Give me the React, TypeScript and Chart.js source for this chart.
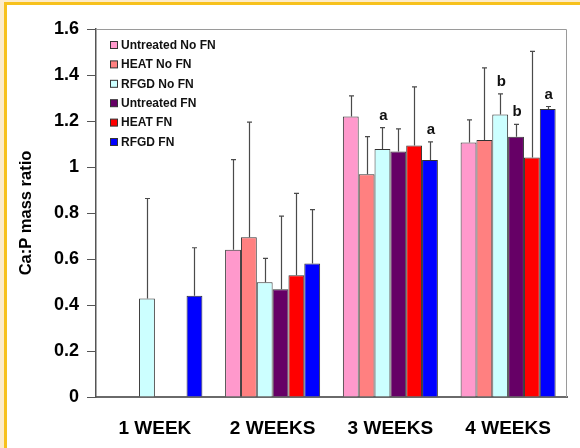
import React, { useEffect, useRef } from "react";
import { Chart, registerables } from "chart.js";

Chart.register(...registerables);

const categories = ["1 WEEK", "2 WEEKS", "3 WEEKS", "4 WEEKS"];
const seriesNames = ["Untreated No FN", "HEAT No FN", "RFGD No FN", "Untreated FN", "HEAT FN", "RFGD FN"];
const seriesColors = ["#FF99CC", "#FF8080", "#CCFFFF", "#660066", "#FF0000", "#0000FF"];

const untreatedNoFN = [null, 0.64, 1.22, 1.106];
const heatNoFN = [null, 0.695, 0.968, 1.117];
const rfgdNoFN = [0.428, 0.499, 1.078, 1.228];
const untreatedFN = [null, 0.468, 1.067, 1.132];
const heatFN = [null, 0.529, 1.093, 1.041];
const rfgdFN = [0.44, 0.58, 1.03, 1.252];

// upper end of the error bars
const untreatedNoFNErr = [null, 1.032, 1.309, 1.205];
const heatNoFNErr = [null, 1.195, 1.132, 1.431];
const rfgdNoFNErr = [0.863, 0.603, 1.171, 1.318];
const untreatedFNErr = [null, 0.786, 1.166, 1.185];
const heatFNErr = [null, 0.885, 1.348, 1.503];
const rfgdFNErr = [0.649, 0.815, 1.109, 1.263];

// significance letters: [series index, category index, letter]
const letterSeries = [2, 5, 2, 3, 5];
const letterCategory = [2, 2, 3, 3, 3];
const letterText = ["a", "a", "b", "b", "a"];

const yTicks = [0, 0.2, 0.4, 0.6, 0.8, 1, 1.2, 1.4, 1.6];

const seriesValues = [untreatedNoFN, heatNoFN, rfgdNoFN, untreatedFN, heatFN, rfgdFN];
const seriesErr = [untreatedNoFNErr, heatNoFNErr, rfgdNoFNErr, untreatedFNErr, heatFNErr, rfgdFNErr];

const FONT = "'Liberation Sans', Arial, sans-serif";

const extrasPlugin = {
  id: "extras",
  afterDatasetsDraw(chart: any) {
    const ctx = chart.ctx;
    const area = chart.chartArea;
    const yScale = chart.scales.y;
    ctx.save();
    // plot frame top & right
    ctx.strokeStyle = "#9a9a9a";
    ctx.lineWidth = 1;
    ctx.beginPath();
    ctx.moveTo(area.left, area.top + 0.5);
    ctx.lineTo(area.right - 0.5, area.top + 0.5);
    ctx.lineTo(area.right - 0.5, area.bottom);
    ctx.stroke();

    // error bars
    ctx.strokeStyle = "#4a4a4a";
    ctx.lineWidth = 1.2;
    seriesErr.forEach((errs, di) => {
      const meta = chart.getDatasetMeta(di);
      errs.forEach((e, i) => {
        const v = seriesValues[di][i];
        if (e == null || v == null) return;
        const bar = meta.data[i];
        const x = Math.round(bar.x) + 0.5;
        const y0 = yScale.getPixelForValue(v);
        const y1 = yScale.getPixelForValue(e);
        ctx.beginPath();
        ctx.moveTo(x, y0);
        ctx.lineTo(x, y1);
        ctx.moveTo(x - 2.5, y1);
        ctx.lineTo(x + 2.5, y1);
        ctx.stroke();
      });
    });

    // letters
    ctx.fillStyle = "#111";
    ctx.font = `bold 15px ${FONT}`;
    ctx.textAlign = "center";
    ctx.textBaseline = "alphabetic";
    letterText.forEach((t, k) => {
      const di = letterSeries[k];
      const ci = letterCategory[k];
      const bar = chart.getDatasetMeta(di).data[ci];
      const top = yScale.getPixelForValue(seriesErr[di][ci] as number);
      ctx.fillText(t, bar.x + 1, top - 8);
    });

    // legend
    ctx.font = `bold 12px ${FONT}`;
    ctx.textAlign = "left";
    ctx.textBaseline = "middle";
    seriesNames.forEach((name, i) => {
      const cy = 45 + i * 19.4;
      ctx.fillStyle = seriesColors[i];
      ctx.fillRect(110, cy - 3.5, 7, 7);
      ctx.strokeStyle = "#333";
      ctx.lineWidth = 1;
      ctx.strokeRect(110.5, cy - 3.5, 7, 7);
      ctx.fillStyle = "#111";
      ctx.fillText(name, 121, cy + 0.5);
    });
    ctx.restore();
  },
};

export default function App() {
  const ref = useRef<HTMLCanvasElement | null>(null);
  useEffect(() => {
    document.body.style.margin = "0";
    const chart = new Chart(ref.current as HTMLCanvasElement, {
      type: "bar",
      data: {
        labels: categories,
        datasets: seriesNames.map((name, i) => ({
          label: name,
          data: seriesValues[i] as any,
          backgroundColor: seriesColors[i],
          borderColor: "#333333",
          borderWidth: 1,
          categoryPercentage: 0.807,
          barPercentage: 1,
        })),
      },
      options: {
        animation: false,
        responsive: false,
        maintainAspectRatio: false,
        layout: { padding: { left: 0, right: 13, top: 29, bottom: 0 } },
        plugins: { legend: { display: false }, tooltip: { enabled: false } },
        scales: {
          x: {
            grid: { display: false, drawTicks: false },
            border: { display: true, color: "#6a6a6a", width: 2 },
            ticks: {
              padding: 20,
              color: "#000",
              font: { family: FONT, size: 19, weight: "bold" },
            },
            afterFit: (s: any) => {
              s.height = 51;
            },
          },
          y: {
            min: 0,
            max: 1.6,
            afterBuildTicks: (s: any) => {
              s.ticks = yTicks.map((v) => ({ value: v }));
            },
            grid: { drawOnChartArea: false, drawTicks: true, tickLength: 9, color: "#555", lineWidth: 1 },
            border: { display: true, color: "#555", width: 1.5 },
            ticks: {
              padding: 8,
              color: "#000",
              font: { family: FONT, size: 18, weight: "bold" },
              callback: (v: any) => String(Math.round(Number(v) * 10) / 10),
            },
            title: {
              display: true,
              text: "Ca:P mass ratio",
              color: "#000",
              font: { family: FONT, size: 16.5, weight: "bold" },
              padding: { top: 17, bottom: 0 },
            },
            afterFit: (s: any) => {
              s.width = 96;
            },
          },
        },
      },
      plugins: [extrasPlugin],
    });
    return () => chart.destroy();
  }, []);

  return (
    <div style={{ position: "fixed", left: 0, top: 0, width: 580, height: 448, background: "#FCEBC9", overflow: "hidden" }}>
      <div
        style={{
          position: "absolute",
          left: 4,
          top: 2,
          width: 600,
          height: 470,
          background: "#fff",
          borderLeft: "3px solid #F7C11C",
          borderTop: "3px solid #F7C11C",
        }}
      />
      <canvas ref={ref} width={580} height={448} style={{ position: "absolute", left: 0, top: 0, width: 580, height: 448 }} />
    </div>
  );
}
